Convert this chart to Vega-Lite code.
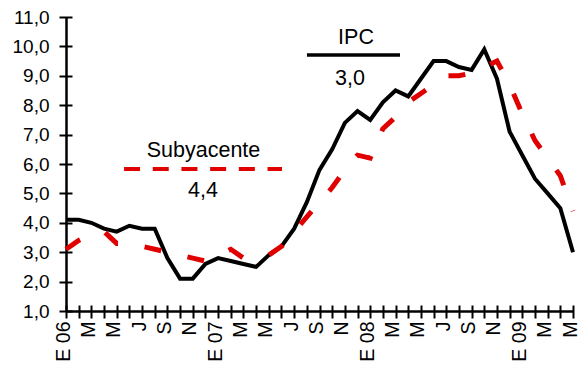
{
  "$schema": "https://vega.github.io/schema/vega-lite/v6.json",
  "width": 507,
  "height": 294,
  "autosize": {"type": "none"},
  "padding": {"left": 66, "top": 17, "right": 6, "bottom": 62},
  "background": "white",
  "config": {"view": {"stroke": null}, "font": "Liberation Sans"},
  "datasets": {
    "inflacion": [
      {"i": 0, "mes": "2006-01", "ipc": 4.1, "subyacente": 3.1},
      {"i": 1, "mes": "2006-02", "ipc": 4.1, "subyacente": 3.4},
      {"i": 2, "mes": "2006-03", "ipc": 4.0, "subyacente": 3.6},
      {"i": 3, "mes": "2006-04", "ipc": 3.8, "subyacente": 3.7},
      {"i": 4, "mes": "2006-05", "ipc": 3.7, "subyacente": 3.3},
      {"i": 5, "mes": "2006-06", "ipc": 3.9, "subyacente": 3.3},
      {"i": 6, "mes": "2006-07", "ipc": 3.8, "subyacente": 3.2},
      {"i": 7, "mes": "2006-08", "ipc": 3.8, "subyacente": 3.1},
      {"i": 8, "mes": "2006-09", "ipc": 2.8, "subyacente": 3.0},
      {"i": 9, "mes": "2006-10", "ipc": 2.1, "subyacente": 2.9},
      {"i": 10, "mes": "2006-11", "ipc": 2.1, "subyacente": 2.8},
      {"i": 11, "mes": "2006-12", "ipc": 2.6, "subyacente": 2.7},
      {"i": 12, "mes": "2007-01", "ipc": 2.8, "subyacente": 2.9},
      {"i": 13, "mes": "2007-02", "ipc": 2.7, "subyacente": 3.1},
      {"i": 14, "mes": "2007-03", "ipc": 2.6, "subyacente": 2.8},
      {"i": 15, "mes": "2007-04", "ipc": 2.5, "subyacente": 2.8},
      {"i": 16, "mes": "2007-05", "ipc": 2.9, "subyacente": 2.9},
      {"i": 17, "mes": "2007-06", "ipc": 3.2, "subyacente": 3.2},
      {"i": 18, "mes": "2007-07", "ipc": 3.8, "subyacente": 3.7},
      {"i": 19, "mes": "2007-08", "ipc": 4.7, "subyacente": 4.2},
      {"i": 20, "mes": "2007-09", "ipc": 5.8, "subyacente": 4.7},
      {"i": 21, "mes": "2007-10", "ipc": 6.5, "subyacente": 5.2},
      {"i": 22, "mes": "2007-11", "ipc": 7.4, "subyacente": 5.8},
      {"i": 23, "mes": "2007-12", "ipc": 7.8, "subyacente": 6.3},
      {"i": 24, "mes": "2008-01", "ipc": 7.5, "subyacente": 6.2},
      {"i": 25, "mes": "2008-02", "ipc": 8.1, "subyacente": 7.2},
      {"i": 26, "mes": "2008-03", "ipc": 8.5, "subyacente": 7.6},
      {"i": 27, "mes": "2008-04", "ipc": 8.3, "subyacente": 8.1},
      {"i": 28, "mes": "2008-05", "ipc": 8.9, "subyacente": 8.4},
      {"i": 29, "mes": "2008-06", "ipc": 9.5, "subyacente": 8.7},
      {"i": 30, "mes": "2008-07", "ipc": 9.5, "subyacente": 9.0},
      {"i": 31, "mes": "2008-08", "ipc": 9.3, "subyacente": 9.0},
      {"i": 32, "mes": "2008-09", "ipc": 9.2, "subyacente": 9.1},
      {"i": 33, "mes": "2008-10", "ipc": 9.9, "subyacente": 9.3},
      {"i": 34, "mes": "2008-11", "ipc": 8.9, "subyacente": 9.5},
      {"i": 35, "mes": "2008-12", "ipc": 7.1, "subyacente": 8.7},
      {"i": 36, "mes": "2009-01", "ipc": 6.3, "subyacente": 7.7},
      {"i": 37, "mes": "2009-02", "ipc": 5.5, "subyacente": 6.8},
      {"i": 38, "mes": "2009-03", "ipc": 5.0, "subyacente": 6.2},
      {"i": 39, "mes": "2009-04", "ipc": 4.5, "subyacente": 5.6},
      {"i": 40, "mes": "2009-05", "ipc": 3.0, "subyacente": 4.4}
    ],
    "leyenda": [
      {"serie": "Subyacente", "x0": 4.58, "x1": 17.04, "y": 5.83},
      {"serie": "IPC", "x0": 19.01, "x1": 26.35, "y": 9.71}
    ],
    "rotulos": [
      {"texto": "Subyacente", "x": 10.85, "y": 6.24},
      {"texto": "4,4", "x": 10.81, "y": 4.88},
      {"texto": "IPC", "x": 22.88, "y": 10.08},
      {"texto": "3,0", "x": 22.41, "y": 8.69}
    ]
  },
  "layer": [
    {
      "data": {"name": "inflacion"},
      "mark": {"type": "line", "color": "black", "strokeWidth": 4, "strokeJoin": "miter"},
      "encoding": {
        "x": {
          "field": "i", "type": "quantitative",
          "scale": {"domain": [0, 40], "nice": false, "zero": false},
          "axis": {
            "orient": "bottom", "title": null, "grid": false, "ticks": false,
            "values": [0,1,2,3,4,5,6,7,8,9,10,11,12,13,14,15,16,17,18,19,20,21,22,23,24,25,26,27,28,29,30,31,32,33,34,35,36,37,38,39,40],
            "labelExpr": "['E 06','','M','','M','','J','','S','','N','','E 07','','M','','M','','J','','S','','N','','E 08','','M','','M','','J','','S','','N','','E 09','','M','','M'][datum.value]",
            "labelAngle": 270, "labelAlign": "right", "labelBaseline": "middle",
            "labelPadding": 10, "labelOffset": -3, "labelFontSize": 19.5, "labelColor": "black",
            "labelOverlap": false, "labelFlush": false, "labelBound": false,
            "domainColor": "black", "domainWidth": 2.5
          }
        },
        "y": {
          "field": "ipc", "type": "quantitative",
          "scale": {"domain": [1, 11], "nice": false, "zero": false},
          "axis": {
            "orient": "left", "title": null, "grid": false, "ticks": false,
            "values": [1,2,3,4,5,6,7,8,9,10,11],
            "labelExpr": "replace(format(datum.value, '.1f'), '.', ',')",
            "labelPadding": 17, "labelFontSize": 19, "labelColor": "black",
            "labelOverlap": false, "labelFlush": false,
            "domainColor": "black", "domainWidth": 2.5
          }
        }
      }
    },
    {
      "data": {"name": "inflacion"},
      "mark": {"type": "line", "color": "#e00000", "strokeWidth": 5, "strokeDash": [17, 27], "strokeCap": "butt"},
      "encoding": {
        "x": {
          "field": "i", "type": "quantitative",
          "axis": {
            "orient": "bottom", "title": null, "grid": false, "labels": false, "domain": false,
            "offset": -6,
            "values": [0,1,2,3,4,5,6,7,8,9,10,11,12,13,14,15,16,17,18,19,20,21,22,23,24,25,26,27,28,29,30,31,32,33,34,35,36,37,38,39,40],
            "tickColor": "black", "tickWidth": 2, "tickSize": 13
          }
        },
        "y": {
          "field": "subyacente", "type": "quantitative",
          "axis": {
            "orient": "left", "title": null, "grid": false, "labels": false, "domain": false,
            "offset": -6,
            "values": [1,2,3,4,5,6,7,8,9,10,11],
            "tickColor": "black", "tickWidth": 2, "tickSize": 13
          }
        }
      }
    },
    {
      "data": {"name": "leyenda"},
      "transform": [{"filter": "datum.serie === 'Subyacente'"}],
      "mark": {"type": "rule", "color": "#e00000", "strokeWidth": 4, "strokeDash": [16, 12.7], "strokeCap": "butt"},
      "encoding": {
        "x": {"field": "x0", "type": "quantitative", "axis": null},
        "x2": {"field": "x1"},
        "y": {"field": "y", "type": "quantitative", "axis": null}
      }
    },
    {
      "data": {"name": "leyenda"},
      "transform": [{"filter": "datum.serie === 'IPC'"}],
      "mark": {"type": "rule", "color": "black", "strokeWidth": 3.5, "strokeCap": "butt"},
      "encoding": {
        "x": {"field": "x0", "type": "quantitative", "axis": null},
        "x2": {"field": "x1"},
        "y": {"field": "y", "type": "quantitative", "axis": null}
      }
    },
    {
      "data": {"name": "rotulos"},
      "mark": {"type": "text", "fontSize": 21.5, "color": "black", "align": "center", "baseline": "alphabetic"},
      "encoding": {
        "x": {"field": "x", "type": "quantitative", "axis": null},
        "y": {"field": "y", "type": "quantitative", "axis": null},
        "text": {"field": "texto"}
      }
    }
  ],
  "resolve": {"axis": {"x": "independent", "y": "independent"}}
}
